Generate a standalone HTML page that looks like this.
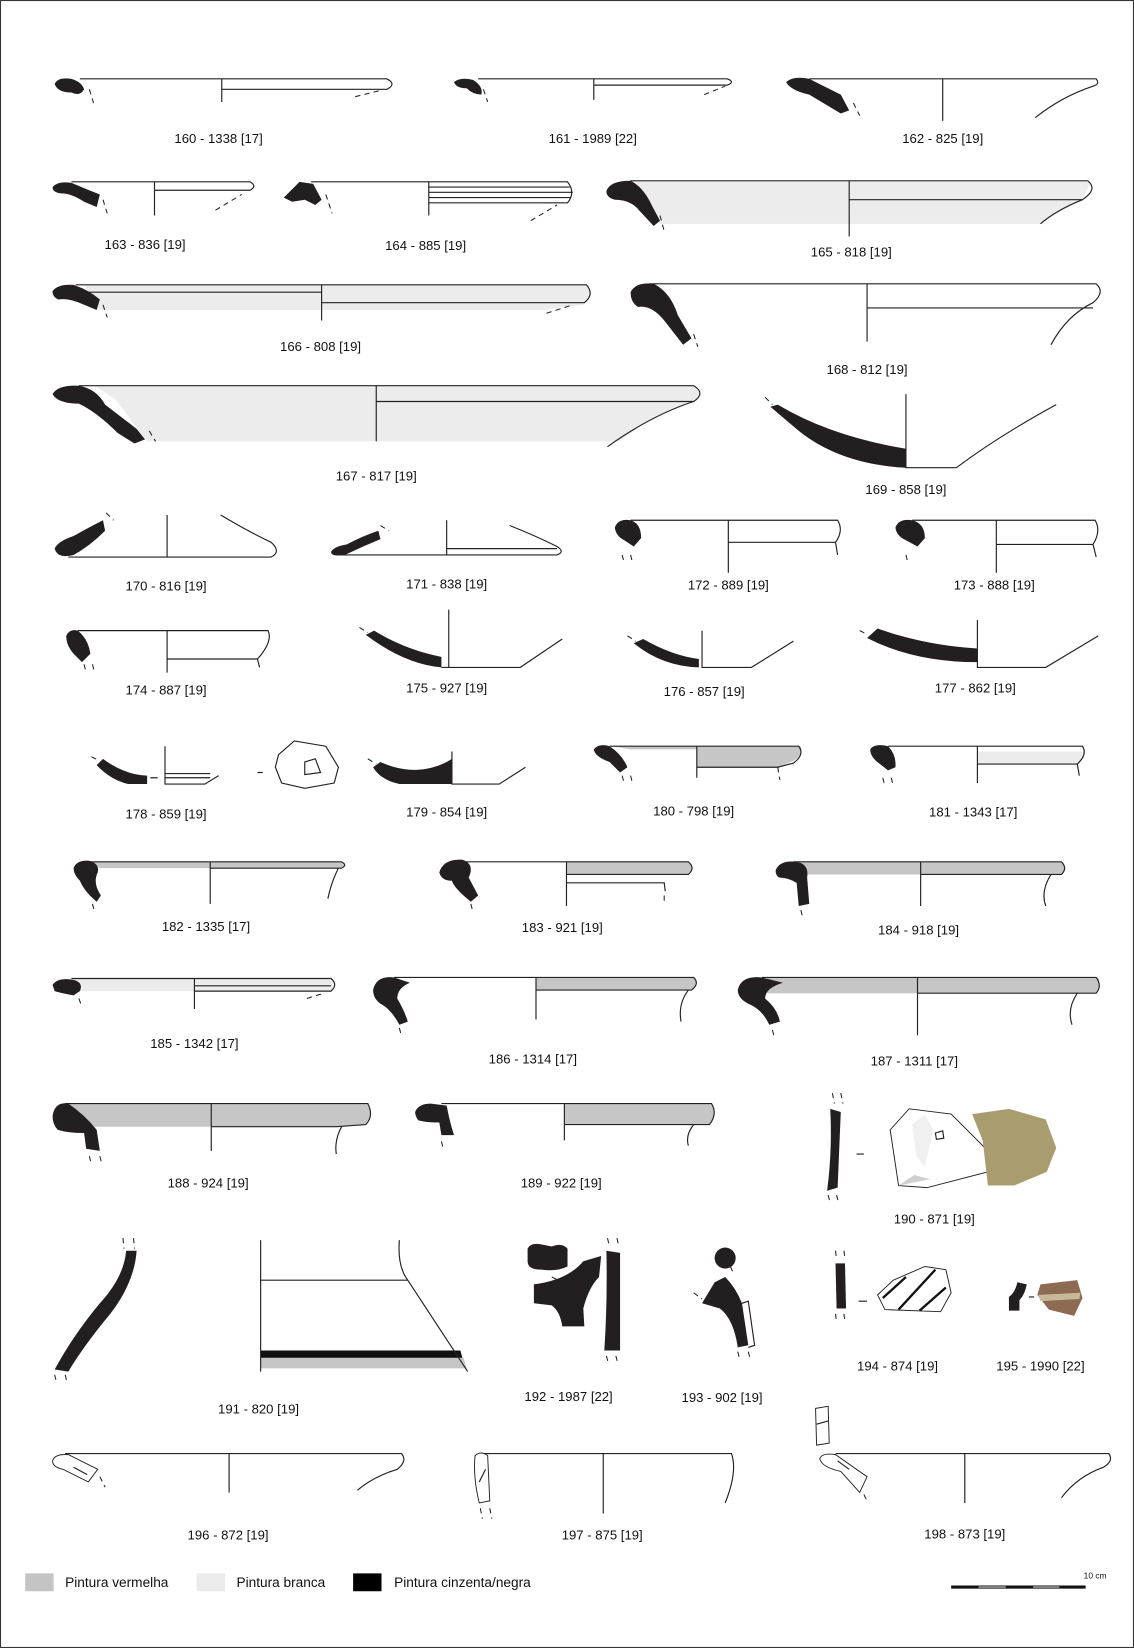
<!DOCTYPE html>
<html><head><meta charset="utf-8"><style>
html,body{margin:0;padding:0;background:#fff}
svg{display:block}
text{font-family:"Liberation Sans",sans-serif;font-size:12.5px;fill:#111;text-anchor:middle}
.l{fill:none;stroke:#222;stroke-width:1.1}
.d{fill:none;stroke:#222;stroke-width:1;stroke-dasharray:5 4}
.b{fill:#231f20}
.r{fill:#c6c6c6}
.w{fill:#ececec}
</style></head><body>
<svg width="1134" height="1648" viewBox="0 0 1079 1568" preserveAspectRatio="none" xmlns="http://www.w3.org/2000/svg">
<rect x="0.5" y="0.5" width="1078" height="1567" fill="#fff" stroke="#333" stroke-width="1"/>

<!-- 160 -->
<path class="b" d="M52,80 Q55,73 68,75 Q78,78 80,85 Q76,92 68,88 Q55,88 52,80Z"/>
<path class="l" d="M76,75 H368 Q378,80 368,85 H211 M211,75 V97"/>
<path class="d" d="M85,85 L89,98 M338,92 L362,86"/>
<text x="208" y="136">160 - 1338 [17]</text>
<!-- 161 -->
<path class="b" d="M432,78 Q438,73 450,76 Q460,82 458,90 Q450,90 444,84 Q434,84 432,78Z"/>
<path class="l" d="M455,75 H692 Q700,78 692,81 H565 M565,75 V95"/>
<path class="d" d="M460,85 L464,97 M670,90 L690,82"/>
<text x="564" y="136">161 - 1989 [22]</text>
<!-- 162 -->
<path class="b" d="M748,78 Q755,72 770,75 L800,90 L808,105 L800,108 L770,90 Q752,86 748,78Z"/>
<path class="l" d="M770,75 H1043 Q1047,80 1040,82 Q1010,92 985,112 M897,75 V115"/>
<path class="d" d="M812,98 L818,110"/>
<text x="897" y="136">162 - 825 [19]</text>
<!-- 163 -->
<path class="b" d="M50,178 Q55,172 68,174 Q82,180 95,185 L92,197 L80,192 Q68,184 58,184 Q50,183 50,178Z"/>
<path class="l" d="M68,173 H238 Q245,177 238,181 H147 M147,173 V205"/>
<path class="d" d="M98,190 L102,203 M205,200 L230,185"/>
<text x="138" y="237">163 - 836 [19]</text>
<!-- 164 -->
<path class="b" d="M270,188 L285,173 L298,175 L306,190 L300,195 L290,190 L278,192Z"/>
<path class="l" d="M296,173 H540 Q548,183 540,193 H408 M408,173 V205 M408,178 H542 M408,183 H545 M408,188 H543"/>
<path class="d" d="M310,185 L316,203 M505,210 L530,195"/>
<text x="405" y="238">164 - 885 [19]</text>
<!-- 165 -->
<path class="w" d="M605,173 H1038 L1030,190 Q1005,200 990,213 H628 Z"/>
<path class="b" d="M577,182 Q580,172 600,172 Q612,178 620,195 L628,210 L622,215 L608,200 Q600,190 585,190 Q577,188 577,182Z"/>
<path class="l" d="M600,172 H1035 Q1045,180 1030,190 H808 M808,172 V225 M1030,190 Q1005,200 990,213"/>
<path class="d" d="M628,205 L632,220"/>
<text x="810" y="244">165 - 818 [19]</text>
<!-- 166 -->
<path class="w" d="M80,271 H560 Q565,282 555,290 Q540,291 520,295 H95Z"/>
<path class="b" d="M50,277 Q55,270 70,271 Q85,276 95,285 L92,295 L80,290 Q65,283 56,285 Q50,283 50,277Z"/>
<path class="l" d="M72,271 H558 Q566,280 556,288 H306 M82,278 H306 M306,271 V305"/>
<path class="d" d="M98,290 L102,302 M520,298 L545,290"/>
<text x="305" y="334">166 - 808 [19]</text>
<!-- 168 -->
<path class="b" d="M600,278 Q605,268 622,270 Q638,278 645,300 L658,322 L650,328 L632,305 Q620,290 607,292 Q600,288 600,278Z"/>
<path class="l" d="M618,270 H1043 Q1052,278 1040,288 Q1015,300 1000,328 M825,270 V325 M825,293 H1040"/>
<path class="d" d="M660,318 L664,330"/>
<text x="825" y="356">168 - 812 [19]</text>
<!-- 167 -->
<path class="w" d="M90,367 H660 Q670,372 660,382 Q620,395 590,420 H140 L110,380Z"/>
<path class="b" d="M50,375 Q55,366 75,367 Q92,370 100,385 L130,408 L138,418 L128,422 L112,412 Q92,392 75,384 Q55,384 50,375Z"/>
<path class="l" d="M75,367 H660 Q672,374 660,382 H358 M358,367 V420 M660,382 Q620,395 578,425"/>
<path class="d" d="M142,410 L148,420"/>
<text x="358" y="457">167 - 817 [19]</text>
<!-- 169 -->
<path class="b" d="M733,387 L740,385 Q790,415 862,427 V445 Q800,442 760,410Z"/>
<path class="l" d="M862,375 V445 H910 Q950,415 1005,385"/>
<path class="d" d="M728,378 L735,385"/>
<text x="862" y="470">169 - 858 [19]</text>
<!-- 170 -->
<path class="b" d="M52,522 Q55,515 70,510 Q88,500 98,495 L100,505 Q85,520 70,528 Q55,532 52,522Z"/>
<path class="l" d="M65,530 H258 Q268,525 258,516 Q235,505 210,490 M159,490 V530"/>
<path class="d" d="M101,488 L108,495"/>
<text x="158" y="562">170 - 816 [19]</text>
<!-- 171 -->
<path class="b" d="M315,525 Q318,520 330,518 Q345,510 360,505 L362,513 Q345,520 328,528 Q315,530 315,525Z"/>
<path class="l" d="M320,528 H530 Q538,525 530,520 Q510,510 485,500 M425,495 V528 M425,522 H530"/>
<path class="d" d="M362,500 L370,505"/>
<text x="425" y="560">171 - 838 [19]</text>
<!-- 172 -->
<path class="b" d="M585,502 Q588,493 600,495 Q610,498 610,512 L603,520 L594,514 Q586,510 585,502Z"/>
<path class="l" d="M600,495 H797 Q803,505 795,516 H693 M693,495 V545 M795,516 L797,528"/>
<path class="d" d="M592,528 L594,536 M600,528 L602,536"/>
<text x="693" y="561">172 - 889 [19]</text>
<!-- 173 -->
<path class="b" d="M852,502 Q855,493 868,495 Q880,498 880,512 L873,520 L862,514 Q853,510 852,502Z"/>
<path class="l" d="M868,495 H1042 Q1048,505 1040,518 H948 M948,495 V545 M1040,518 L1043,530"/>
<path class="d" d="M862,528 L864,536"/>
<text x="946" y="561">173 - 888 [19]</text>
<!-- 174 -->
<path class="b" d="M63,605 Q66,598 74,600 Q84,608 86,622 L78,630 L70,622 Q63,614 63,605Z"/>
<path class="l" d="M74,600 H255 Q260,610 245,627 H159 M159,600 V640 M245,627 L247,635"/>
<path class="d" d="M80,632 L82,640 M88,632 L90,640"/>
<text x="158" y="661">174 - 887 [19]</text>
<!-- 175 -->
<path class="b" d="M348,604 L356,600 Q385,618 420,625 V635 Q385,632 348,604Z"/>
<path class="l" d="M427,580 V635 H495 L535,608 M420,635 H427"/>
<path class="d" d="M342,597 L350,602"/>
<text x="425" y="659">175  - 927 [19]</text>
<!-- 176 -->
<path class="b" d="M603,612 L612,608 Q640,624 665,627 V635 Q630,634 603,612Z"/>
<path class="l" d="M668,600 V635 H715 L755,610"/>
<path class="d" d="M597,605 L605,610"/>
<text x="670" y="662">176 - 857 [19]</text>
<!-- 177 -->
<path class="b" d="M825,607 L835,598 Q880,614 930,617 V630 Q870,630 825,607Z"/>
<path class="l" d="M930,590 V635 H995 L1045,605"/>
<path class="d" d="M818,600 L826,604"/>
<text x="928" y="659">177 - 862 [19]</text>
<!-- 178 -->
<path class="b" d="M92,728 L98,722 Q118,737 140,738 V746 H122 Q105,742 92,728Z"/>
<path class="l" d="M157,710 V746 H195 L208,738 M157,736 H200 M157,740 H200 M143,740 H150"/>
<path class="l" d="M245,735 H250 M265,718 L280,705 L310,710 L322,730 L318,745 L290,750 L268,745 L262,730Z M290,725 L300,722 L305,735 L290,737 Z"/>
<path class="d" d="M87,720 L95,724"/>
<text x="158" y="779">178 - 859 [19]</text>
<!-- 179 -->
<path class="b" d="M355,730 L362,725 Q395,740 425,725 L430,722 V746 H380 Q362,742 355,730Z"/>
<path class="l" d="M430,715 V746 H475 L500,730"/>
<path class="d" d="M350,722 L358,727"/>
<text x="425" y="777">179 - 854 [19]</text>
<!-- 180 -->
<path class="r" d="M582,710 H762 Q765,718 755,724 L740,730 H663 V713 H600Z"/>
<path class="b" d="M565,713 Q570,707 580,710 Q592,718 597,730 L590,735 L580,725 Q566,720 565,713Z"/>
<path class="l" d="M580,710 H760 Q766,718 755,726 L740,730 H663 M663,710 V740"/>
<path class="d" d="M592,738 L594,746 M600,738 L602,746 M740,730 L742,742"/>
<text x="660" y="776">180 - 798 [19]</text>
<!-- 181 -->
<path class="w" d="M930,715 H1030 Q1032,722 1025,727 H930Z"/>
<path class="b" d="M828,713 Q832,707 845,710 Q853,718 852,730 L845,733 L836,726 Q828,720 828,713Z"/>
<path class="l" d="M845,710 H1030 Q1035,718 1025,727 H930 M930,710 V745 M1025,727 L1027,738"/>
<path class="d" d="M840,740 L842,748 M848,740 L850,748"/>
<text x="926" y="777">181 - 1343 [17]</text>
<!-- 182 -->
<path class="r" d="M85,820 H325 Q330,823 325,826 H95Z"/>
<path class="b" d="M70,826 Q73,818 85,819 Q95,822 93,830 Q88,840 96,852 L92,858 Q80,848 76,838 Q70,832 70,826Z"/>
<path class="l" d="M85,820 H325 Q331,823 325,826 H200 M200,820 V860 M322,826 Q315,840 312,855"/>
<path class="d" d="M88,860 L90,868"/>
<text x="196" y="886">182 - 1335 [17]</text>
<!-- 183 -->
<path class="r" d="M539,820 H655 Q662,826 655,832 H539Z"/>
<path class="b" d="M418,830 Q422,817 440,818 Q452,822 446,835 L455,852 L448,858 Q432,845 430,838 Q420,838 418,830Z"/>
<path class="l" d="M440,820 H655 Q662,826 655,832 H539 M539,820 V862 M539,840 H632 L633,848"/>
<path class="d" d="M448,860 L450,868 M632,852 L632,860"/>
<text x="535" y="887">183 - 921 [19]</text>
<!-- 184 -->
<path class="r" d="M760,820 H1010 Q1015,826 1010,832 H760Z"/>
<path class="b" d="M738,828 Q742,818 758,820 Q770,822 768,835 L770,860 L760,862 L758,840 Q750,835 742,835 Q738,834 738,828Z"/>
<path class="l" d="M755,820 H1010 Q1016,826 1010,832 H876 M876,820 V862 M1000,832 Q990,848 995,862"/>
<path class="d" d="M762,866 L764,874"/>
<text x="874" y="889">184 - 918 [19]</text>
<!-- 185 -->
<path class="w" d="M70,931 H315 Q320,937 315,943 H70Z"/>
<path class="b" d="M50,937 Q55,930 68,932 Q80,934 76,943 L70,947 Q58,945 52,943Z"/>
<path class="l" d="M68,931 H315 Q322,937 315,943 H185 M185,931 V960 M185,938 H315"/>
<path class="d" d="M75,950 L78,958 M292,950 L308,945"/>
<text x="185" y="997">185 - 1342 [17]</text>
<!-- 186 -->
<path class="r" d="M510,930 H660 Q665,936 658,942 H510Z"/>
<path class="b" d="M355,942 Q358,928 375,930 L390,935 Q378,940 378,950 Q385,962 388,972 L380,975 Q372,960 362,955 Q355,950 355,942Z"/>
<path class="l" d="M375,930 H660 Q666,936 658,942 H510 M510,930 V970 M655,942 Q645,955 648,972"/>
<path class="d" d="M380,978 L382,986"/>
<text x="507" y="1012">186 - 1314 [17]</text>
<!-- 187 -->
<path class="r" d="M730,930 H1045 Q1048,938 1043,945 H730Z"/>
<path class="b" d="M702,942 Q705,928 725,930 L745,935 Q728,940 728,950 Q740,960 742,972 L732,975 Q725,960 712,955 Q702,950 702,942Z"/>
<path class="l" d="M725,930 H1043 Q1049,938 1043,945 H873 M873,930 V985 M1025,945 Q1015,960 1020,975"/>
<path class="d" d="M735,980 L737,988"/>
<text x="870" y="1014">187 - 1311 [17]</text>
<!-- 188 -->
<path class="r" d="M62,1050 H350 Q356,1062 348,1070 L320,1072 H90Z"/>
<path class="b" d="M50,1062 Q52,1048 65,1050 Q80,1060 92,1075 L95,1095 L82,1093 L80,1078 Q65,1078 55,1075 Q50,1070 50,1062Z"/>
<path class="l" d="M62,1050 H350 Q356,1062 348,1070 L320,1072 H201 M201,1050 V1095 M325,1072 Q318,1085 320,1098"/>
<path class="d" d="M85,1100 L87,1108 M95,1100 L97,1108"/>
<text x="198" y="1130">188 - 924 [19]</text>
<!-- 189 -->
<path class="r" d="M537,1050 H677 Q683,1060 675,1070 H537Z"/>
<path class="b" d="M395,1058 Q398,1050 410,1050 L425,1052 Q428,1068 432,1080 L420,1080 L418,1068 Q405,1068 398,1066 Q395,1062 395,1058Z"/>
<path class="l" d="M420,1050 H677 Q683,1060 675,1070 H537 M537,1050 V1085 M660,1070 Q652,1080 655,1090"/>
<path class="d" d="M420,1086 L422,1094"/>
<text x="534" y="1130">189 - 922 [19]</text>
<!-- 190 -->
<path class="b" d="M790,1055 L800,1058 L797,1130 L787,1133 Q792,1095 790,1055Z"/>
<path class="d" d="M792,1040 L794,1050 M800,1040 L802,1050 M788,1137 L790,1145 M796,1137 L798,1145"/>
<path class="l" d="M815,1098 H822 M912,1098 H919"/>
<path d="M865,1055 L905,1060 L945,1100 L940,1115 L882,1130 L855,1128 L847,1075Z" fill="#fff" stroke="#222" stroke-width="0.9"/>
<path d="M855,1128 L870,1118 L885,1122 Z" fill="#cfcfcf"/>
<path d="M868,1070 L880,1060 L888,1075 L880,1110 L872,1100Z" fill="#f0f0f0"/>
<path class="l" d="M890,1078 L897,1076 L898,1083 L891,1084Z"/>
<path d="M960,1055 L995,1065 L1005,1092 L996,1115 L965,1128 L940,1128 L935,1085 L925,1060Z" fill="#a99d70"/>
<text x="889" y="1164">190 - 871 [19]</text>
<!-- 191 -->
<path class="b" d="M120,1190 L130,1190 Q128,1220 105,1250 Q80,1280 65,1305 L52,1303 Q70,1270 95,1240 Q118,1215 120,1190Z"/>
<path class="d" d="M117,1178 L118,1188 M127,1178 L128,1188 M52,1308 L54,1316 M62,1308 L64,1316"/>
<path d="M248,1285 H438 L440,1292 H248Z" fill="#111"/>
<path class="r" d="M248,1292 H441 L444,1302 H248Z"/>
<path class="l" d="M248,1180 V1305 M248,1218 H388 L445,1305 M380,1180 Q378,1205 388,1218"/>
<text x="246" y="1345">191 - 820 [19]</text>
<!-- 192 -->
<path class="b" d="M502,1188 Q505,1182 515,1184 L525,1186 Q535,1182 540,1188 L540,1205 Q530,1210 515,1208 Q502,1208 502,1200Z"/>
<path class="b" d="M555,1200 L572,1195 L570,1215 Q560,1225 555,1245 L556,1262 L535,1262 Q533,1248 525,1242 L508,1240 V1222 Q540,1218 555,1200Z"/>
<path class="b" d="M577,1190 L590,1192 L590,1285 L575,1285 Q578,1240 577,1190Z"/>
<path class="d" d="M578,1178 L580,1186 M587,1178 L589,1186 M577,1290 L579,1298 M586,1290 L588,1298 M525,1215 L535,1220"/>
<text x="541" y="1333">192 - 1987 [22]</text>
<!-- 193 -->
<circle cx="690" cy="1197" r="10" fill="#231f20"/>
<path class="b" d="M680,1220 L690,1215 Q700,1225 706,1240 L712,1280 L702,1282 Q698,1255 685,1245 L668,1240Z"/>
<path class="l" d="M706,1240 L712,1238 L718,1280 L712,1282"/>
<path class="d" d="M695,1205 L698,1212 M660,1230 L668,1236 M702,1286 L704,1294 M712,1286 L714,1294"/>
<text x="687" y="1334">193 - 902 [19]</text>
<!-- 194 -->
<path class="b" d="M795,1202 L804,1202 L805,1245 L796,1245Z"/>
<path class="d" d="M795,1190 L796,1198 M803,1190 L804,1198 M795,1250 L796,1258 M803,1250 L804,1258"/>
<path class="l" d="M817,1238 H825"/>
<path d="M850,1218 L880,1205 L900,1208 L905,1230 L895,1248 L842,1246 L835,1232Z" fill="#fff" stroke="#222" stroke-width="0.9"/>
<path d="M840,1235 L862,1215 M855,1246 L890,1208 M875,1247 L900,1225" stroke="#111" stroke-width="2.2" fill="none"/>
<text x="854" y="1304">194 - 874 [19]</text>
<!-- 195 -->
<path class="b" d="M968,1220 L977,1222 Q975,1232 970,1237 L970,1247 L960,1247 L960,1234 Q966,1230 968,1220Z"/>
<path class="l" d="M979,1234 H984"/>
<path d="M990,1222 L1025,1218 L1030,1235 L1022,1252 L998,1246 L987,1232Z" fill="#8d6a52"/>
<path d="M988,1232 L1028,1230 L1027,1236 L990,1238Z" fill="#c8b89a"/>
<text x="990" y="1304">195 - 1990 [22]</text>
<!-- 196 -->
<path d="M50,1390 Q52,1383 65,1384 L93,1398 L84,1410 L60,1398 Q50,1396 50,1390Z" fill="#fff" stroke="#222" stroke-width="0.9"/>
<path class="l" d="M70,1396 L83,1403 M62,1383 H382 Q388,1390 378,1398 Q355,1405 340,1418 M218,1383 V1420"/>
<path class="d" d="M95,1405 L100,1415"/>
<text x="217" y="1465">196 - 872 [19]</text>
<!-- 197 -->
<path d="M452,1385 Q458,1380 464,1385 L466,1428 L456,1430 Q450,1405 452,1385Z" fill="#fff" stroke="#222" stroke-width="0.9"/>
<path class="l" d="M456,1410 L462,1398 M460,1383 H696 Q702,1400 690,1430 M574,1383 V1440"/>
<path class="d" d="M457,1435 L459,1445 M466,1435 L468,1445"/>
<text x="573" y="1465">197 - 875 [19]</text>
<!-- 198 -->
<path d="M776,1340 L788,1338 L789,1373 L777,1375Z" fill="#fff" stroke="#222" stroke-width="0.9"/>
<path class="l" d="M777,1355 L788,1352"/>
<path d="M780,1388 Q782,1382 795,1384 L825,1405 L818,1420 L800,1400 Q782,1396 780,1388Z" fill="#fff" stroke="#222" stroke-width="0.9"/>
<path class="l" d="M797,1390 L808,1398 M795,1383 H1055 Q1060,1390 1050,1396 Q1025,1405 1010,1425 M918,1383 V1430"/>
<path class="d" d="M822,1422 L826,1430"/>
<text x="918" y="1464">198 - 873 [19]</text>

<!-- legend -->
<rect x="24" y="1497" width="27" height="17" fill="#c4c4c4"/>
<text x="62" y="1510" style="text-anchor:start;font-size:13px">Pintura vermelha</text>
<rect x="187" y="1497" width="27" height="17" fill="#ebebeb"/>
<text x="225" y="1510" style="text-anchor:start;font-size:13px">Pintura branca</text>
<rect x="336" y="1497" width="27" height="17" fill="#000"/>
<text x="375" y="1510" style="text-anchor:start;font-size:13px">Pintura cinzenta/negra</text>
<path d="M905,1510 H1033" stroke="#111" stroke-width="3"/>
<path d="M931,1510 H957 M983,1510 H1008" stroke="#999" stroke-width="1.5"/>
<text x="1042" y="1502" style="font-size:8px">10 cm</text>
</svg>
</body></html>
